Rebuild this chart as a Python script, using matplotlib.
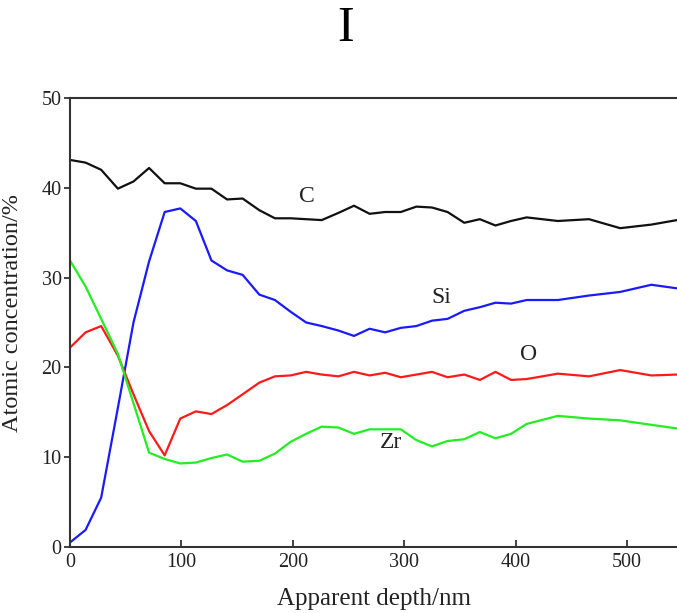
import matplotlib
matplotlib.use("Agg")
import matplotlib.pyplot as plt

# depth profile values
depth = [0, 14, 28, 43, 57, 71, 85, 99, 113, 127, 141, 155, 170, 184, 198, 212, 226,
         241, 255, 269, 283, 297, 311, 325, 339, 354, 368, 382, 396, 410, 438, 466,
         494, 522, 545]
c_conc = [43.1, 42.8, 42.0, 39.9, 40.7, 42.2, 40.5, 40.5, 39.9, 39.9, 38.7, 38.8, 37.5,
          36.6, 36.6, 36.5, 36.4, 37.2, 38.0, 37.1, 37.3, 37.3, 37.9, 37.8, 37.3, 36.1,
          36.5, 35.8, 36.3, 36.7, 36.3, 36.5, 35.5, 35.9, 36.4]
si_conc = [0.5, 1.9, 5.5, 15.5, 25.0, 31.8, 37.3, 37.7, 36.3, 31.9, 30.8, 30.3, 28.1,
           27.5, 26.2, 25.0, 24.6, 24.1, 23.5, 24.3, 23.9, 24.4, 24.6, 25.2, 25.4, 26.3,
           26.7, 27.2, 27.1, 27.5, 27.5, 28.0, 28.4, 29.2, 28.8]
o_conc = [22.2, 23.9, 24.6, 21.3, 17.0, 12.9, 10.2, 14.3, 15.1, 14.8, 15.8, 17.0, 18.3,
          19.0, 19.1, 19.5, 19.2, 19.0, 19.5, 19.1, 19.4, 18.9, 19.2, 19.5, 18.9, 19.2,
          18.6, 19.5, 18.6, 18.7, 19.3, 19.0, 19.7, 19.1, 19.2]
zr_conc = [31.9, 29.0, 25.4, 21.5, 16.0, 10.5, 9.8, 9.3, 9.4, 9.9, 10.3, 9.5, 9.6,
           10.4, 11.7, 12.6, 13.4, 13.3, 12.6, 13.1, 13.1, 13.1, 11.9, 11.2, 11.8, 12.0,
           12.8, 12.1, 12.6, 13.7, 14.6, 14.3, 14.1, 13.6, 13.2]

plt.rcParams['font.family'] = ['Liberation Serif', 'DejaVu Serif']

fig = plt.figure(figsize=(6.77, 6.13), dpi=100)
ax = fig.add_axes([0.1034, 0.1077, 0.8966, 0.7325])

ax.plot(depth, c_conc, color='#111111', lw=1.6)
ax.plot(depth, si_conc, color='#1a1aff', lw=1.6)
ax.plot(depth, o_conc, color='#ff1a1a', lw=1.6)
ax.plot(depth, zr_conc, color='#22ee22', lw=1.6)

ax.text(213, 39.0, 'C', fontsize=17, ha='center', va='center', color='#222222')
ax.text(333, 27.8, 'Si', fontsize=17, ha='center', va='center', color='#222222')
ax.text(412, 21.4, 'O', fontsize=17, ha='center', va='center', color='#222222')
ax.text(288, 11.6, 'Zr', fontsize=17, ha='center', va='center', color='#222222')

ax.set_xlim(0, 545)
ax.set_ylim(0, 50)
ax.set_xticks([0, 100, 200, 300, 400, 500])
ax.set_yticks([0, 10, 20, 30, 40, 50])
ax.tick_params(width=1.2, labelsize=14.5, colors='#222222')
ax.tick_params(axis='y', direction='out', length=4, pad=2)
ax.tick_params(axis='x', direction='in', length=5, pad=4)
ax.spines['right'].set_visible(False)
for s in ['left', 'bottom', 'top']:
    ax.spines[s].set_linewidth(1.5)
    ax.spines[s].set_color('#333333')

ax.set_xlabel('Apparent depth/nm', fontsize=18, color='#222222', labelpad=12)
ax.set_ylabel('Atomic concentration/%', fontsize=17.5, color='#222222', labelpad=2)
ax.yaxis.set_label_coords(-0.078, 0.52)

fig.text(0.51, 0.953, 'I', fontsize=36, ha='center', va='center')

fig.savefig('out.png', dpi=100)
